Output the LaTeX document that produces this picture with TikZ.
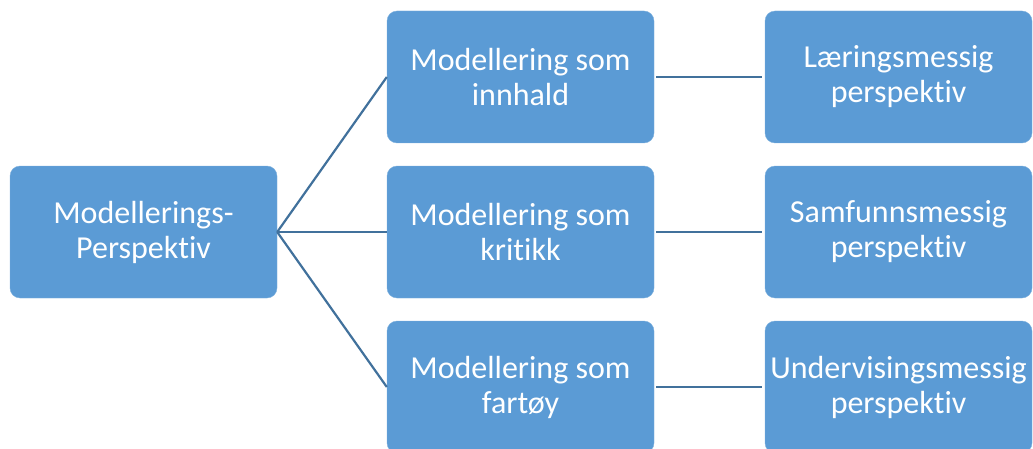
\documentclass[tikz,border=0pt]{standalone}
\usepackage{fontspec}
\setmainfont{Carlito}[Ligatures=NoCommon]
\definecolor{boxblue}{HTML}{5B9BD5}
\definecolor{lineblue}{HTML}{41719C}
\begin{document}
\begin{tikzpicture}[x=1pt, y=1pt,
    box/.style={fill=boxblue, draw=boxblue!80!white, rounded corners=10pt,
        minimum width=267pt, minimum height=132pt, text=white, align=center,
        font=\fontsize{32}{35}\selectfont},
    link/.style={draw=lineblue, line width=2.2pt}]
    \useasboundingbox (0, 0) rectangle (1033, 448);
    \node[box] (M) at (143.5, 216) {Modellerings-\\Perspektiv};
    \node[box] (K_1) at (520.5, 371) {Modellering som\\innhald};
    \node[box] (K_2) at (520.5, 216) {Modellering som\\kritikk};
    \node[box] (K_3) at (520.5, 61) {Modellering som\\fartøy};
    \node[box] (P_1) at (898.5, 371) {Læringsmessig\\perspektiv};
    \node[box] (P_2) at (898.5, 216) {Samfunnsmessig\\perspektiv};
    \node[box] (P_3) at (898.5, 61) {Undervisingsmessig\\perspektiv};
    \draw[link] (M.east) -- (K_1.west);
    \draw[link] (M.east) -- (K_2.west);
    \draw[link] (M.east) -- (K_3.west);
    \draw[link] ([xshift=2pt]K_1.east) -- ([xshift=-3pt]P_1.west);
    \draw[link] ([xshift=2pt]K_2.east) -- ([xshift=-3pt]P_2.west);
    \draw[link] ([xshift=2pt]K_3.east) -- ([xshift=-3pt]P_3.west);
\end{tikzpicture}
\end{document}
